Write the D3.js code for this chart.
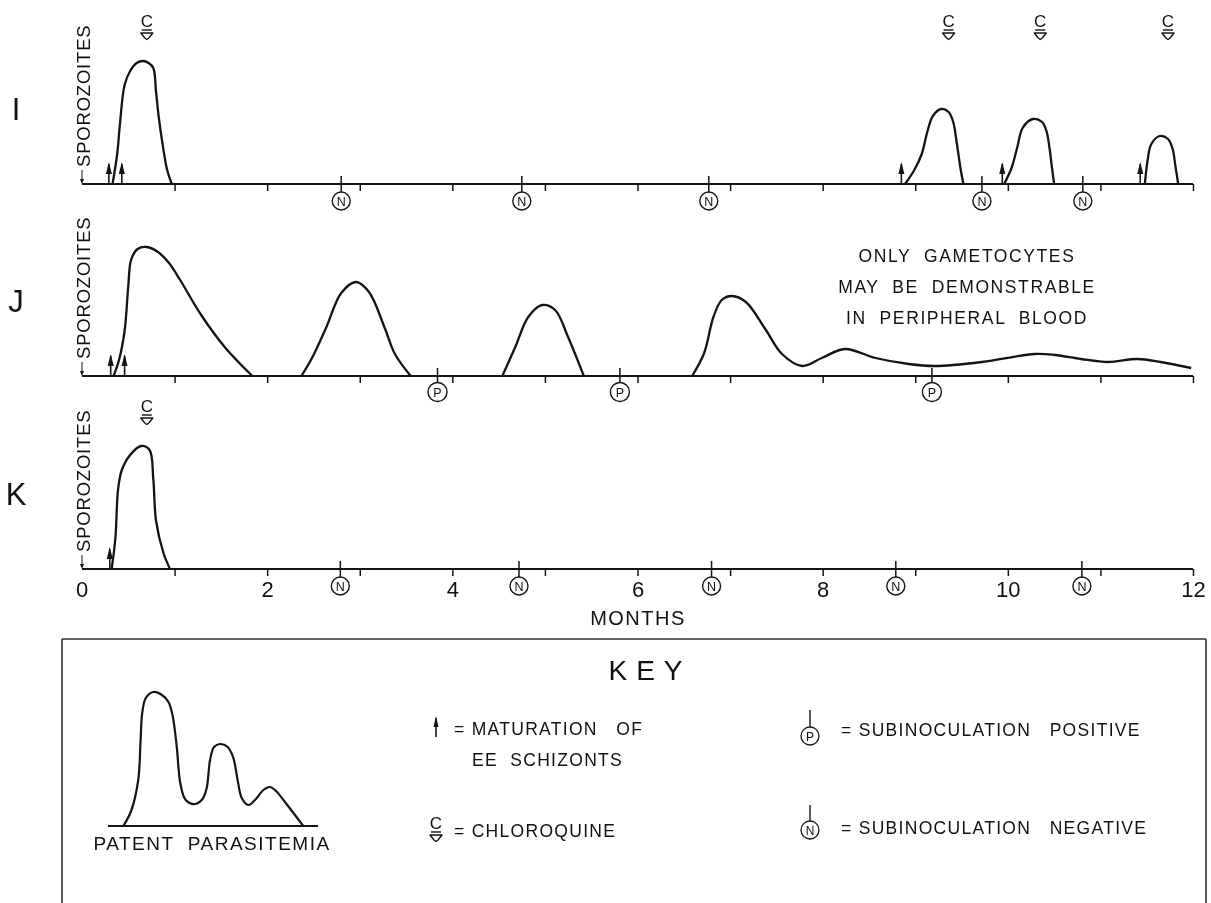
<!DOCTYPE html>
<html>
<head>
<meta charset="utf-8">
<script src="https://cdn.jsdelivr.net/npm/d3@7"></script>
<style>
  html, body { margin: 0; padding: 0; background: #fff; }
  svg { display: block; will-change: transform; }
  text { font-family: "Liberation Sans", Arial, sans-serif; fill: #111; }
</style>
</head>
<body>
<svg id="chart" width="1211" height="903"></svg>
<script>
// ---------------- DATA ----------------
const panelNames = ["I", "J", "K"];
const monthTicks = [1, 2, 3, 4, 5, 6, 7, 8, 9, 10, 11, 12];
const monthLabels = [0, 2, 4, 6, 8, 10, 12];
const axisTitle = "MONTHS";
const sporoLabel = "SPOROZOITES";

// Patent parasitemia humps: [month, relative level]
const peaksI = [
  [[0.33,0],[0.38,30],[0.41,60],[0.46,99],[0.52,113],[0.59,121],[0.66,123],[0.72,121],[0.77,116],[0.80,92],[0.83,66],[0.87,40],[0.92,14],[0.97,0]],
  [[8.89,0],[8.99,14],[9.07,30],[9.13,52],[9.19,68],[9.28,75],[9.36,72],[9.41,62],[9.45,40],[9.49,15],[9.52,0]],
  [[9.96,0],[10.04,16],[10.10,36],[10.16,56],[10.27,65],[10.37,62],[10.42,52],[10.45,36],[10.48,14],[10.50,0]],
  [[11.48,0],[11.51,24],[11.55,40],[11.64,48],[11.73,45],[11.78,35],[11.81,18],[11.84,0]]
];
const peaksJ = [
  [[0.34,0],[0.40,16],[0.46,45],[0.50,90],[0.53,116],[0.60,127],[0.70,129],[0.82,124],[0.94,113],[1.06,96],[1.28,62],[1.55,28],[1.84,0]],
  [[2.37,0],[2.49,19],[2.64,49],[2.80,83],[2.96,94],[3.10,84],[3.27,48],[3.38,22],[3.55,0]],
  [[4.54,0],[4.68,29],[4.82,59],[4.97,71],[5.11,66],[5.25,39],[5.42,0]],
  [[6.59,0],[6.72,23],[6.82,59],[6.91,76],[7.02,80],[7.17,74],[7.38,47],[7.56,22],[7.78,10],[7.99,18],[8.24,27],[8.57,18],[8.93,12],[9.21,10],[9.72,14],[10.29,22],[10.51,21],[10.79,17],[11.08,14],[11.40,17],[11.65,14],[11.98,8]]
];
const peaksK = [
  [[0.32,0],[0.36,30],[0.39,80],[0.43,99],[0.52,114],[0.64,123],[0.73,119],[0.77,90],[0.80,48],[0.88,16],[0.95,0]]
];

// Markers (months)
const arrowsI = [0.29, 0.43, 8.85, 9.94, 11.43];
const arrowsJ = [0.31, 0.46];
const arrowsK = [0.30];
const chloroI = [0.70, 9.36, 10.35, 11.73];
const chloroJ = [];
const chloroK = [0.70];
const negI = [2.80, 4.75, 6.77, 9.72, 10.81];
const negJ = [];
const negK = [2.79, 4.72, 6.80, 8.79, 10.80];
const posI = [];
const posJ = [3.84, 5.81, 9.18];
const posK = [];

const noteLines = ["ONLY  GAMETOCYTES", "MAY  BE  DEMONSTRABLE", "IN  PERIPHERAL  BLOOD"];

// Key
const keyTitle = "KEY";
const keyCurve = [[7.3,0],[11,15],[14.4,46],[15.5,85],[16.3,113],[18,128],[21.6,134],[25.7,131],[28.8,124],[30.8,110],[32.7,80],[34.5,42],[37,26],[41.4,22],[45,27],[47,38],[48.6,66],[50.5,79],[53.3,82],[57,79],[59.7,68],[61.8,45],[63.7,28],[66.8,21],[70,26],[74,36],[77.1,39],[80,35],[85,22],[93,0]];
const keyCaption = "PATENT  PARASITEMIA";
const keyTexts = {
  arrow: ["= MATURATION   OF", "EE  SCHIZONTS"],
  chloro: "= CHLOROQUINE",
  pos: "= SUBINOCULATION   POSITIVE",
  neg: "= SUBINOCULATION   NEGATIVE"
};

// ---------------- DRAW ----------------
const svg = d3.select("#chart");
const ink = "#141414";

const x = d3.scaleLinear().domain([0, 12]).range([82, 1193]);
const panelAxisY = { I: 184, J: 376, K: 569 };
const panelData = {
  I: { peaks: peaksI, arrows: arrowsI, chloro: chloroI, neg: negI, pos: posI, labels: false },
  J: { peaks: peaksJ, arrows: arrowsJ, chloro: chloroJ, neg: negJ, pos: posJ, labels: false },
  K: { peaks: peaksK, arrows: arrowsK, chloro: chloroK, neg: negK, pos: posK, labels: true }
};

function drawChloro(g, cx, baseY) {
  g.append("text").attr("x", cx).attr("y", baseY)
    .attr("text-anchor", "middle").attr("font-size", 17).text("C");
  g.append("line").attr("x1", cx - 5).attr("x2", cx + 5)
    .attr("y1", baseY + 3).attr("y2", baseY + 3)
    .attr("stroke", ink).attr("stroke-width", 1.4);
  const t = baseY + 6;
  g.append("path")
    .attr("d", `M${cx-6},${t} L${cx+6},${t} L${cx+2},${t+5} L${cx},${t+6.5} L${cx-2},${t+5} Z`)
    .attr("fill", "none").attr("stroke", ink).attr("stroke-width", 1.4)
    .attr("stroke-linejoin", "round");
}

function drawArrow(g, cx, baseY, len, headLen, headW) {
  g.append("line").attr("x1", cx).attr("x2", cx)
    .attr("y1", baseY).attr("y2", baseY - len + 2)
    .attr("stroke", ink).attr("stroke-width", 1.6);
  g.append("path")
    .attr("d", `M${cx},${baseY-len} L${cx-headW/2},${baseY-len+headLen} L${cx+headW/2},${baseY-len+headLen} Z`)
    .attr("fill", ink);
}

function drawSub(g, cx, axisY, letter, r, cyOff) {
  g.append("line").attr("x1", cx).attr("x2", cx)
    .attr("y1", axisY - 8).attr("y2", axisY + cyOff - r)
    .attr("stroke", ink).attr("stroke-width", 1.5);
  g.append("circle").attr("cx", cx).attr("cy", axisY + cyOff).attr("r", r)
    .attr("fill", "#fff").attr("stroke", ink).attr("stroke-width", 1.4);
  g.append("text").attr("x", cx).attr("y", axisY + cyOff + 4.5)
    .attr("text-anchor", "middle").attr("font-size", 12.5).text(letter);
}

panelNames.forEach(name => {
  const ay = panelAxisY[name];
  const d = panelData[name];
  const y = d3.scaleLinear().domain([0, 130]).range([ay, ay - 130]);
  const g = svg.append("g").attr("class", "panel-" + name);

  g.append("text").attr("x", 16).attr("y", ay - 64)
    .attr("text-anchor", "middle").attr("font-size", 31)
    .attr("font-weight", 300).text(name);

  const axis = d3.axisBottom(x).tickValues(monthTicks).tickSize(7)
    .tickFormat(d.labels ? (v => monthLabels.includes(v) ? String(v) : "") : "");
  const ag = g.append("g").attr("transform", `translate(0,${ay})`).call(axis);
  ag.select(".domain").attr("stroke", ink).attr("stroke-width", 2.2)
    .attr("d", `M${x(0)},0H${x(12)}`);
  ag.selectAll(".tick line").attr("stroke", ink).attr("stroke-width", 1.5);
  if (d.labels) {
    ag.append("g").attr("class", "tick").attr("transform", `translate(${x(0)},0)`)
      .append("text").attr("y", 10).attr("dy", "0.71em").text("0");
    ag.selectAll(".tick text").attr("font-size", 22).attr("fill", ink)
      .attr("font-family", "Liberation Sans, Arial, sans-serif")
      .attr("y", 12);
  }

  g.append("text")
    .attr("transform", `translate(90,${ay - 17}) rotate(-90)`)
    .attr("font-size", 18.5).attr("letter-spacing", 0.8).text(sporoLabel);
  g.append("line").attr("x1", x(0)).attr("x2", x(0))
    .attr("y1", ay - 14).attr("y2", ay - 3)
    .attr("stroke", ink).attr("stroke-width", 1);
  g.append("path").attr("d", `M${x(0)},${ay} L${x(0)-2},${ay-5} L${x(0)+2},${ay-5} Z`).attr("fill", ink);

  const line = d3.line().x(p => x(p[0])).y(p => y(p[1])).curve(d3.curveCatmullRom.alpha(0.5));
  d.peaks.forEach(pk => {
    g.append("path").attr("d", line(pk))
      .attr("fill", "none").attr("stroke", ink).attr("stroke-width", 2.3)
      .attr("stroke-linejoin", "round");
  });

  d.arrows.forEach(m => drawArrow(g, x(m), ay, 22, 12, 6));
  d.chloro.forEach(m => drawChloro(g, x(m), ay - 157));
  d.neg.forEach(m => drawSub(g, x(m), ay, "N", 9, 17));
  d.pos.forEach(m => drawSub(g, x(m), ay, "P", 9.5, 16));
});

svg.append("text").attr("x", 638).attr("y", 625).attr("text-anchor", "middle")
  .attr("font-size", 20).attr("letter-spacing", 1.5).text(axisTitle);

noteLines.forEach((t, i) => {
  svg.append("text").attr("x", 967).attr("y", 262 + i * 31)
    .attr("text-anchor", "middle").attr("font-size", 17.5)
    .attr("letter-spacing", 1.6)
    .style("white-space", "pre").text(t);
});

// ---------------- KEY ----------------
const key = svg.append("g").attr("class", "key");
key.append("line").attr("x1", 62).attr("x2", 1206).attr("y1", 639).attr("y2", 639)
  .attr("stroke", "#333").attr("stroke-width", 1.6);
key.append("line").attr("x1", 62).attr("x2", 62).attr("y1", 639).attr("y2", 903)
  .attr("stroke", "#333").attr("stroke-width", 1.6);
key.append("line").attr("x1", 1206).attr("x2", 1206).attr("y1", 639).attr("y2", 903)
  .attr("stroke", "#333").attr("stroke-width", 1.6);

key.append("text").attr("x", 650).attr("y", 680).attr("text-anchor", "middle")
  .attr("font-size", 28).attr("letter-spacing", 9).text(keyTitle);

const kx = d3.scaleLinear().domain([0, 100]).range([108, 318]);
const ky = d3.scaleLinear().domain([0, 134]).range([826, 692]);
key.append("line").attr("x1", kx(0)).attr("x2", kx(100)).attr("y1", ky(0)).attr("y2", ky(0))
  .attr("stroke", ink).attr("stroke-width", 2);
key.append("path")
  .attr("d", d3.line().x(p => kx(p[0])).y(p => ky(p[1])).curve(d3.curveCatmullRom.alpha(0.5))(keyCurve))
  .attr("fill", "none").attr("stroke", ink).attr("stroke-width", 2.2);
key.append("text").attr("x", 212).attr("y", 850).attr("text-anchor", "middle")
  .attr("font-size", 19).attr("letter-spacing", 1.5).style("white-space", "pre").text(keyCaption);

const keyFont = 17.5, keyLS = 1.3;
drawArrow(key, 436, 737, 21, 11, 5);
key.append("text").attr("x", 454).attr("y", 735).attr("font-size", keyFont)
  .attr("letter-spacing", keyLS).style("white-space", "pre").text(keyTexts.arrow[0]);
key.append("text").attr("x", 472).attr("y", 766).attr("font-size", keyFont)
  .attr("letter-spacing", keyLS).style("white-space", "pre").text(keyTexts.arrow[1]);

drawChloro(key, 436, 829);
key.append("text").attr("x", 454).attr("y", 837).attr("font-size", keyFont)
  .attr("letter-spacing", keyLS).style("white-space", "pre").text(keyTexts.chloro);

function keySub(cx, cy, top, letter) {
  key.append("line").attr("x1", cx).attr("x2", cx).attr("y1", top).attr("y2", cy - 9)
    .attr("stroke", ink).attr("stroke-width", 1.4);
  key.append("circle").attr("cx", cx).attr("cy", cy).attr("r", 9)
    .attr("fill", "none").attr("stroke", ink).attr("stroke-width", 1.3);
  key.append("text").attr("x", cx).attr("y", cy + 4.5).attr("text-anchor", "middle")
    .attr("font-size", 12).text(letter);
}
keySub(810, 736, 710, "P");
key.append("text").attr("x", 841).attr("y", 736).attr("font-size", keyFont)
  .attr("letter-spacing", keyLS).style("white-space", "pre").text(keyTexts.pos);
keySub(810, 830, 805, "N");
key.append("text").attr("x", 841).attr("y", 834).attr("font-size", keyFont)
  .attr("letter-spacing", keyLS).style("white-space", "pre").text(keyTexts.neg);
</script>
</body>
</html>
